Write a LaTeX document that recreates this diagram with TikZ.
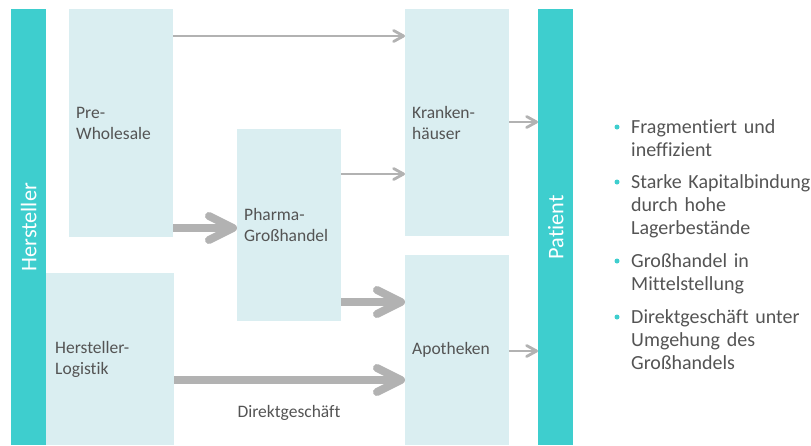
\documentclass[tikz,border=0pt]{standalone}
\usepackage{fontspec}
\setmainfont{Carlito}[Ligatures=NoCommon]
\usetikzlibrary{arrows.meta}
\definecolor{barteal}{RGB}{62,206,206}
\definecolor{boxfill}{RGB}{218,238,241}
\definecolor{arrgray}{RGB}{178,178,178}
\definecolor{txtgray}{RGB}{84,84,84}
\begin{document}
\begin{tikzpicture}[x=1pt,y=-1pt,
    box/.style={fill=boxfill, inner xsep=7pt, inner ysep=0pt, anchor=north west,
      align=left, text=txtgray, font=\fontsize{17.5}{21.4}\selectfont},
    barnode/.style={fill=barteal, minimum width=35pt, minimum height=436pt,
      anchor=north west, inner sep=0pt},
    barlabel/.style={rotate=90, text=white, font=\fontsize{22.3}{26}\selectfont},
    item/.style={anchor=base west, inner sep=0pt, text width=180pt, align=left,
      text=txtgray, font=\fontsize{20}{23.4}\selectfont},
    thin arrow/.style={draw=arrgray, line width=2.8pt,
      -{Straight Barb[length=10pt,width=11pt,round]}},
    thick arrow/.style={draw=arrgray, line width=8pt,
      -{Straight Barb[length=24pt,width=24pt,round]}}]
  \useasboundingbox (0,0) rectangle (811,445);

  % Hersteller and Patient
  \node[barnode] (herst) at (11,9) {};
  \node[barlabel] (herstlbl) at (herst.center) {Hersteller};
  \node[barnode] (pat) at (538,9) {};
  \node[barlabel] (patlbl) at (pat.center) {Patient};

  % stages
  \node[box, text width=90pt, minimum height=228pt] (prew) at (69,9) {Pre-\\Wholesale};
  \node[box, inner xsep=9pt, text width=110pt, minimum height=172pt] (hlog) at (46,273) {Hersteller-\\Logistik};
  \node[box, text width=90pt, minimum height=192pt] (pgh) at (237,129) {Pharma-\\Großhandel};
  \node[box, text width=90pt, minimum height=227pt] (kh) at (405,9) {Kranken-\\häuser};
  \node[box, text width=90pt, minimum height=190pt] (apo) at (405,255) {Apotheken};

  % flows
  \draw[thin arrow] (prew.east |- 0,36) -- (kh.west |- 0,36);
  \draw[thin arrow] (pgh.east |- 0,174) -- (kh.west |- 0,174);
  \draw[thick arrow] (prew.east |- 0,228) -- (pgh.west |- 0,228);
  \draw[thick arrow] (pgh.east |- 0,302) -- (apo.west |- 0,302);
  \draw[thick arrow] (hlog.east |- 0,380) -- (apo.west |- 0,380);
  \draw[thin arrow] (kh.east |- 0,122) -- (pat.west |- 0,122);
  \draw[thin arrow] (apo.east |- 0,351) -- (pat.west |- 0,351);
  \node[anchor=base, text=txtgray, font=\fontsize{17.5}{21.4}\selectfont] (dg) at (289,417) {Direktgeschäft};

  % remarks
  \node[item] (b1) at (631,133) {Fragmentiert und\\ineffizient};
  \node[item] (b2) at (631,188) {Starke Kapitalbindung\\durch hohe\\Lagerbestände};
  \node[item] (b3) at (631,267) {Großhandel in\\Mittelstellung};
  \node[item] (b4) at (631,323) {Direktgeschäft unter\\Umgehung des\\Großhandels};
  \foreach \b in {b1,b2,b3,b4}
    \fill[barteal] ([xshift=-14pt,yshift=6pt]\b.base west) circle (2.5pt);
\end{tikzpicture}
\end{document}
